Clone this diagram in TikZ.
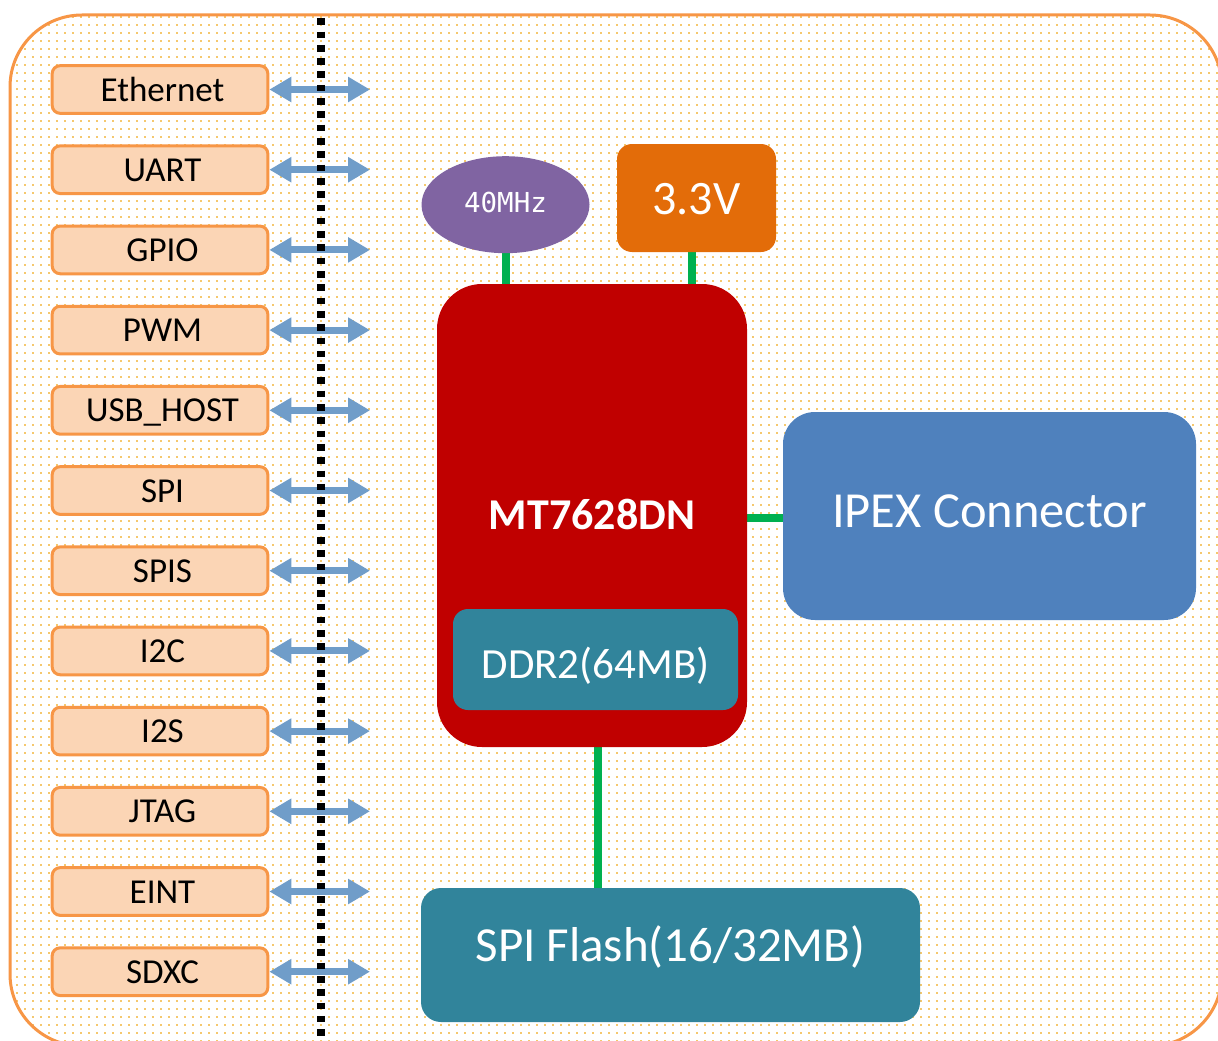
\documentclass[tikz,border=0pt]{standalone}
\usepackage{fontspec}
\setmainfont{Carlito}
\newfontfamily\monof{DejaVu Sans Mono}
\usetikzlibrary{arrows.meta,shapes.geometric}
\definecolor{dotc}{RGB}{245,200,110}
\definecolor{orstroke}{RGB}{247,150,70}
\definecolor{peach}{RGB}{251,213,181}
\definecolor{arrblue}{RGB}{112,157,201}
\definecolor{oscpurple}{RGB}{128,100,162}
\definecolor{voltorange}{RGB}{227,108,9}
\definecolor{chipred}{RGB}{192,0,0}
\definecolor{memteal}{RGB}{49,132,155}
\definecolor{ipexblue}{RGB}{79,129,189}
\definecolor{wiregreen}{RGB}{0,176,80}
\pgfdeclarelayer{backlayer}
\pgfdeclarelayer{wirelayer}
\pgfsetlayers{backlayer,wirelayer,main}
\begin{document}
\begin{tikzpicture}[x=1pt,y=-1pt,
  ifbox/.style={draw=orstroke, line width=3pt, fill=peach, rounded corners=8pt,
    minimum width=215.7pt, minimum height=47.7pt, inner sep=0pt, outer sep=1.5pt,
    font=\fontsize{35}{40}\selectfont, text height=23pt, text depth=0pt},
  ifarrow/.style={draw=arrblue, line width=7pt,
    {Triangle[length=22pt,width=24pt]}-{Triangle[length=22pt,width=24pt]}},
  block/.style={inner sep=0pt, outer sep=0pt, text=white, draw=none},
  wire/.style={draw=wiregreen, line width=8pt},
  dotrow/.style={draw=dotc, line width=2.2pt, dash pattern=on 2.2pt off 5.8pt}
]
\useasboundingbox (0,0) rectangle (1218,1041);
\begin{scope}
\clip (0,0) rectangle (1218,1041);
\begin{pgfonlayer}{backlayer}
\fill[white] (0,0) rectangle (1218,1041);
\begin{scope}
\clip[rounded corners=72pt] (10,15) rectangle (1222,1046);
\foreach \yy in {17,25,...,1041} {
  \draw[dotrow] (0,\yy) -- (1220,\yy);
}
\end{scope}
\draw[line width=3pt, draw=orstroke, rounded corners=72pt] (10,15) rectangle (1222,1046);
\end{pgfonlayer}

% interface boxes and arrows
\foreach \t [count=\i from 0] in {Ethernet,UART,GPIO,PWM,USB\_HOST,SPI,SPIS,I2C,I2S,JTAG,EINT,SDXC} {
  \pgfmathsetmacro\yy{89.5+80.2*\i}
  \node[ifbox] (if\i) at (160,\yy) {\hspace*{5pt}\t};
  \coordinate (ae\i) at (370,\yy);
  \draw[ifarrow] (if\i.east) -- (ae\i);
}
% boundary line
\draw[line width=7.7pt, dash pattern=on 6.65pt off 6.65pt] (321.2,18.3) -- (321.2,1045);

% blocks
\node[block, ellipse, fill=oscpurple, minimum width=168pt, minimum height=97pt,
  font=\monof\fontsize{27.5}{30}\selectfont, text height=15.6pt, text depth=0pt] (osc) at (505.5,204.7) {40MHz};
\node[block, fill=voltorange, rounded corners=15pt, minimum width=159pt, minimum height=108pt,
  font=\fontsize{48}{54}\selectfont, text height=33pt, text depth=0pt] (volt) at (696.5,198) {3.3V};
\node[block, fill=chipred, rounded corners=45pt, minimum width=310pt, minimum height=463pt,
  font=\bfseries\fontsize{44}{50}\selectfont, text height=28pt, text depth=0pt] (mt) at (592,515.5) {MT7628DN};
\node[block, fill=memteal, rounded corners=15pt, minimum width=285pt, minimum height=101pt,
  font=\fontsize{43}{50}\selectfont, text height=38.7pt, text depth=0pt] (ddr) at (595.5,659.5) {DDR2(64MB)};
\node[block, fill=ipexblue, rounded corners=32pt, minimum width=413pt, minimum height=208pt,
  font=\fontsize{50.5}{58}\selectfont, text height=32pt, text depth=10pt] (ipex) at (989.5,516) {IPEX Connector};
\node[block, fill=memteal, rounded corners=20pt, minimum width=499pt, minimum height=134pt,
  font=\fontsize{49}{56}\selectfont, text height=31pt, text depth=18pt] (spi) at (670.5,955) {SPI Flash(16/32MB)};

% connectors
\begin{pgfonlayer}{wirelayer}
\draw[wire] (osc.south) -- (osc.south |- mt.north);
\draw[wire] ([xshift=-5pt]volt.south) -- ([xshift=-5pt]volt.south |- mt.north);
\draw[wire] ([yshift=-2.5pt]mt.east) -- ([yshift=-2.5pt]mt.east -| ipex.west);
\draw[wire] ([xshift=6pt]mt.south) -- ([xshift=6pt]mt.south |- spi.north);
\end{pgfonlayer}
\end{scope}
\end{tikzpicture}
\end{document}
